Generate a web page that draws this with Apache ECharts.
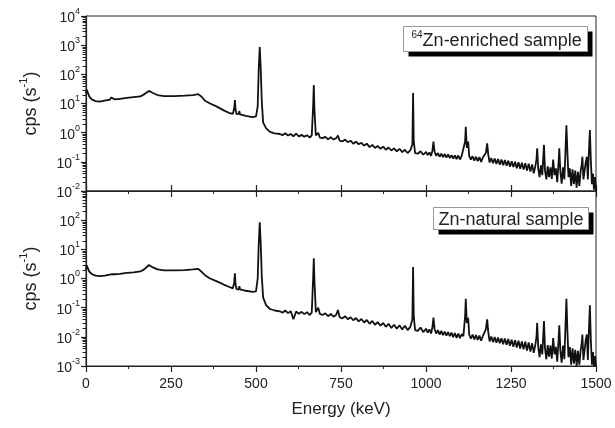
<!DOCTYPE html>
<html>
<head>
<meta charset="utf-8">
<script src="https://cdn.jsdelivr.net/npm/echarts@6/dist/echarts.min.js"></script>
<style>
  html, body { margin: 0; padding: 0; background: #fff; }
  #chart { width: 615px; height: 428px; }
</style>
</head>
<body>
<div id="chart"></div>
<script>
// energy axis (keV), shared by both spectra
const energy = [
  0, 2, 5, 10, 18, 28, 40, 55, 70, 74,
  77, 85, 100, 120, 140, 160, 172, 185, 197, 210,
  230, 260, 290, 315, 330, 340, 350, 365, 385, 405,
  420, 432, 436, 438, 440, 443, 449, 451, 453, 470,
  490, 500, 505, 508, 511, 514, 517, 521, 530, 541,
  555, 570, 578, 586, 594, 602, 610, 618, 626, 634,
  642, 650, 658, 664, 668, 670, 672, 676, 683, 688,
  696, 704, 712, 720, 728, 736, 741, 746, 754, 762,
  770, 778, 786, 794, 802, 810, 818, 826, 834, 842,
  850, 858, 866, 874, 882, 890, 898, 906, 914, 922,
  930, 938, 946, 954, 960, 962, 964, 968, 976, 984,
  992, 1000, 1005, 1010, 1015, 1019, 1022, 1025, 1030, 1035,
  1040, 1045, 1050, 1055, 1060, 1065, 1070, 1075, 1080, 1085,
  1090, 1095, 1100, 1105, 1110, 1115, 1117, 1120, 1124, 1127,
  1132, 1137, 1142, 1147, 1152, 1157, 1162, 1167, 1172, 1176,
  1180, 1183, 1187, 1192, 1197, 1202, 1207, 1212, 1217, 1222,
  1227, 1232, 1237, 1242, 1247, 1252, 1257, 1262, 1267, 1272,
  1277, 1282, 1287, 1292, 1297, 1302, 1307, 1312, 1317, 1322,
  1325, 1327, 1330, 1334, 1338, 1342, 1345, 1347, 1350, 1354,
  1358, 1362, 1366, 1370, 1374, 1378, 1382, 1386, 1390, 1392,
  1395, 1399, 1403, 1407, 1410, 1413, 1416, 1419, 1423, 1427,
  1431, 1435, 1439, 1443, 1447, 1451, 1455, 1458, 1460, 1463,
  1467, 1470, 1473, 1476, 1479, 1482, 1485, 1488, 1491, 1494,
  1497, 1500
];

// 64Zn-enriched sample (cps)
const cpsEnriched = [
  22, 30, 26, 17, 13.5, 12, 11.5, 12.5, 13.5, 16,
  13.8, 13.8, 14.5, 15.5, 16.5, 17.5, 21, 27, 23, 19.5,
  18, 18, 18.5, 19.5, 21, 17, 12.5, 10, 7.8, 5.8,
  4.8, 4.4, 7, 13, 6, 4.3, 4.4, 5.5, 4.2, 3.8,
  3.4, 3.6, 8, 150, 870, 150, 12, 2.2, 1.4, 1.07,
  0.95, 0.9, 0.82, 0.95, 0.8, 0.9, 0.75, 0.92, 0.74, 0.84,
  0.73, 0.82, 0.68, 0.81, 8, 43, 6, 0.8, 0.98, 0.68,
  0.65, 0.72, 0.59, 0.7, 0.58, 0.65, 0.8, 0.53, 0.5, 0.58,
  0.47, 0.53, 0.42, 0.49, 0.4, 0.45, 0.36, 0.42, 0.32, 0.38,
  0.3, 0.35, 0.28, 0.33, 0.26, 0.31, 0.245, 0.29, 0.23, 0.28,
  0.215, 0.26, 0.2, 0.25, 0.4, 23, 0.5, 0.2, 0.19, 0.23,
  0.175, 0.22, 0.17, 0.21, 0.16, 0.25, 0.49, 0.23, 0.16, 0.2,
  0.15, 0.19, 0.145, 0.185, 0.14, 0.18, 0.135, 0.17, 0.13, 0.165,
  0.125, 0.165, 0.12, 0.16, 0.14, 0.5, 1.6, 0.3, 0.5, 0.16,
  0.12, 0.155, 0.11, 0.15, 0.105, 0.145, 0.1, 0.14, 0.12, 0.2,
  0.43, 0.18, 0.095, 0.135, 0.09, 0.13, 0.085, 0.125, 0.08, 0.12,
  0.076, 0.115, 0.074, 0.11, 0.068, 0.105, 0.066, 0.1, 0.06, 0.096,
  0.058, 0.094, 0.054, 0.09, 0.05, 0.086, 0.046, 0.082, 0.04, 0.076,
  0.12, 0.29, 0.06, 0.03, 0.075, 0.035, 0.15, 0.38, 0.05, 0.025,
  0.07, 0.03, 0.065, 0.026, 0.12, 0.035, 0.06, 0.02, 0.1, 0.29,
  0.05, 0.018, 0.065, 0.025, 0.2, 1.8, 0.2, 0.03, 0.06, 0.015,
  0.055, 0.017, 0.05, 0.013, 0.045, 0.015, 0.05, 0.08, 0.15, 0.025,
  0.055, 0.1, 0.15, 0.025, 0.2, 1.23, 0.1, 0.017, 0.04, 0.011,
  0.03, 0.01
];

// Zn-natural sample (cps)
const cpsNatural = [
  2.0, 2.8, 2.5, 1.7, 1.4, 1.25, 1.2, 1.25, 1.35, 1.55,
  1.4, 1.4, 1.45, 1.55, 1.62, 1.75, 2.1, 2.9, 2.4, 2.05,
  1.9, 1.9, 1.95, 2.05, 2.15, 1.7, 1.3, 1.0, 0.8, 0.62,
  0.52, 0.46, 0.75, 1.5, 0.6, 0.43, 0.42, 0.55, 0.42, 0.38,
  0.35, 0.36, 1, 15, 85, 15, 1.2, 0.22, 0.12, 0.09,
  0.08, 0.075, 0.067, 0.08, 0.065, 0.076, 0.04, 0.074, 0.062, 0.072,
  0.06, 0.07, 0.056, 0.068, 1.0, 4.9, 0.8, 0.07, 0.1, 0.061,
  0.056, 0.064, 0.051, 0.061, 0.049, 0.057, 0.083, 0.047, 0.043, 0.051,
  0.04, 0.047, 0.037, 0.044, 0.034, 0.041, 0.031, 0.038, 0.028, 0.035,
  0.026, 0.032, 0.024, 0.03, 0.022, 0.028, 0.02, 0.026, 0.019, 0.025,
  0.018, 0.024, 0.017, 0.022, 0.04, 2.5, 0.05, 0.017, 0.016, 0.021,
  0.0145, 0.019, 0.014, 0.018, 0.013, 0.022, 0.046, 0.019, 0.013, 0.017,
  0.012, 0.016, 0.0115, 0.015, 0.011, 0.0145, 0.0105, 0.014, 0.0098, 0.0135,
  0.0092, 0.013, 0.009, 0.0125, 0.0105, 0.05, 0.2, 0.03, 0.045, 0.012,
  0.0087, 0.012, 0.0082, 0.0115, 0.0078, 0.011, 0.0074, 0.0105, 0.009, 0.018,
  0.04, 0.015, 0.007, 0.0102, 0.0066, 0.0098, 0.0063, 0.0094, 0.006, 0.009,
  0.0056, 0.0087, 0.0053, 0.0084, 0.0049, 0.008, 0.0046, 0.0077, 0.0043, 0.0073,
  0.004, 0.007, 0.0037, 0.0068, 0.0034, 0.0064, 0.0031, 0.006, 0.0028, 0.0057,
  0.01, 0.03, 0.0045, 0.002, 0.0055, 0.0025, 0.012, 0.035, 0.004, 0.0017,
  0.0052, 0.0021, 0.005, 0.0018, 0.009, 0.0025, 0.0045, 0.0014, 0.008, 0.025,
  0.0035, 0.0013, 0.005, 0.0017, 0.02, 0.2, 0.015, 0.002, 0.0045, 0.0011,
  0.004, 0.0012, 0.0036, 0.001, 0.0033, 0.0011, 0.0036, 0.006, 0.012, 0.0016,
  0.004, 0.008, 0.012, 0.0016, 0.015, 0.12, 0.007, 0.0011, 0.003, 0.001,
  0.0022, 0.001
];

// axis ranges and tick labels
const xTicks = [0, 250, 500, 750, 1000, 1250, 1500];
const topDecades = [-2, -1, 0, 1, 2, 3, 4];
const botDecades = [-3, -2, -1, 0, 1, 2, 3];

const FONT = 'Liberation Sans, Arial, sans-serif';
const INK = '#222';

// minor ticks at 2..9 x 10^n within the range
function minorValues (decades) {
  const vals = [];
  for (let i = 0; i < decades.length - 1; i++) {
    for (let k = 2; k <= 9; k++) {
      vals.push(+(k * Math.pow(10, decades[i])).toPrecision(3));
    }
  }
  return vals;
}

const powRich = {
  b: { fontSize: 14, fontFamily: FONT, color: INK, lineHeight: 18, verticalAlign: 'bottom' },
  s: { fontSize: 9, fontFamily: FONT, color: INK, lineHeight: 18, verticalAlign: 'top' }
};

function powLabel (hideTop) {
  return function (v) {
    const e = Math.round(Math.log10(v));
    if (hideTop !== undefined && e === hideTop) return '';
    return '{b|10}{s|' + e + '}';
  };
}

function mainY (grid, decades, hideTop) {
  return {
    type: 'log',
    logBase: 10,
    gridIndex: grid,
    position: 'left',
    min: Math.pow(10, decades[0]),
    max: Math.pow(10, decades[decades.length - 1]),
    name: '{n|cps (s}{s|-1}{n|)}',
    nameLocation: 'middle',
    nameRotate: 90,
    nameGap: 46,
    nameTextStyle: {
      rich: {
        n: { fontSize: 18, fontFamily: FONT, color: INK, lineHeight: 22, verticalAlign: 'bottom' },
        s: { fontSize: 11, fontFamily: FONT, color: INK, lineHeight: 22, verticalAlign: 'top' }
      }
    },
    axisLine: { show: true, lineStyle: { color: INK, width: 1.2 } },
    axisTick: { show: true, inside: false, length: 5, lineStyle: { color: INK, width: 1.2 } },
    axisLabel: { show: true, margin: 6, formatter: powLabel(hideTop), rich: powRich },
    splitLine: { show: false }
  };
}

const xBase = {
  type: 'value',
  min: xTicks[0],
  max: xTicks[xTicks.length - 1],
  interval: xTicks[1] - xTicks[0],
  splitLine: { show: false },
  axisLine: { show: true, onZero: false, lineStyle: { color: INK, width: 1.2 } }
};

const legendRich = {
  t: { fontSize: 18, fontFamily: FONT, fill: INK, lineHeight: 20, verticalAlign: 'bottom' },
  s: { fontSize: 10, fontFamily: FONT, fill: INK, lineHeight: 20, verticalAlign: 'top' }
};

// framed sample label with a solid drop shadow, as in the original figure
function sampleLabel (id, left, top, w, h, textX, text) {
  return {
    id: id,
    type: 'group',
    left: left,
    top: top,
    z: 50,
    children: [
      { type: 'rect', shape: { x: 5, y: 5, width: w, height: h }, style: { fill: '#000' } },
      { type: 'rect', shape: { x: 0, y: 0, width: w, height: h }, style: { fill: '#fff', stroke: '#999', lineWidth: 1 } },
      { type: 'text', x: textX, y: h / 2 + 1, style: { text: text, rich: legendRich, verticalAlign: 'middle', align: 'left' } }
    ]
  };
}

const chart = echarts.init(document.getElementById('chart'), null, { renderer: 'canvas' });

chart.setOption({
  animation: false,
  backgroundColor: '#fff',
  grid: [
    { left: 86, right: 19, top: 16, height: 175, show: true, borderColor: INK, borderWidth: 1, backgroundColor: 'transparent' },
    { left: 86, right: 19, top: 191, height: 175, show: true, borderColor: INK, borderWidth: 1, backgroundColor: 'transparent' }
  ],
  graphic: [
    sampleLabel('lab-top', 403, 26, 184, 25, 8, '{s|64}{t|Zn-enriched sample}'),
    sampleLabel('lab-bot', 433, 207, 155, 22, 5, '{t|Zn-natural sample}')
  ],
  xAxis: [
    Object.assign({}, xBase, {
      gridIndex: 0,
      position: 'bottom',
      axisTick: { show: true, inside: false, length: 6, lineStyle: { color: INK, width: 1.2 } },
      minorTick: { show: true, splitNumber: 2, length: 3, lineStyle: { color: INK, width: 1 } },
      axisLabel: { show: false }
    }),
    Object.assign({}, xBase, {
      gridIndex: 1,
      position: 'top',
      axisTick: { show: true, inside: false, length: 6, lineStyle: { color: INK, width: 1.2 } },
      axisLabel: { show: false }
    }),
    Object.assign({}, xBase, {
      gridIndex: 1,
      position: 'bottom',
      name: 'Energy (keV)',
      nameLocation: 'middle',
      nameGap: 35,
      nameTextStyle: { fontSize: 17, fontFamily: FONT, color: INK },
      axisTick: { show: true, inside: false, length: 6, lineStyle: { color: INK, width: 1.2 } },
      minorTick: { show: true, splitNumber: 2, length: 3, lineStyle: { color: INK, width: 1 } },
      axisLabel: { show: true, margin: 11, fontSize: 14, fontFamily: FONT, color: INK, formatter: v => String(v) }
    })
  ],
  yAxis: [
    mainY(0, topDecades),
    mainY(1, botDecades, botDecades[botDecades.length - 1])
  ],
  series: [
    {
      name: '64Zn-enriched',
      type: 'line',
      xAxisIndex: 0,
      yAxisIndex: 0,
      showSymbol: false,
      silent: true,
      lineStyle: { color: '#111', width: 1.8 },
      data: energy.map((e, i) => [e, cpsEnriched[i]])
    },
    {
      name: 'Zn-natural',
      type: 'line',
      xAxisIndex: 2,
      yAxisIndex: 1,
      showSymbol: false,
      silent: true,
      lineStyle: { color: '#111', width: 1.8 },
      data: energy.map((e, i) => [e, cpsNatural[i]])
    }
  ]
});

// log minor ticks (2..9 x 10^n) on the left axes, positioned through the chart's own y scales
const minorTicks = [];
[[0, 0, topDecades], [1, 2, botDecades]].forEach(([yi, xi, decades]) => {
  const x0 = chart.convertToPixel({ xAxisIndex: xi }, xTicks[0]);
  minorValues(decades).forEach((v, k) => {
    const y = Math.round(chart.convertToPixel({ yAxisIndex: yi }, v)) + 0.5;
    minorTicks.push({
      id: 'mt-' + yi + '-' + k,
      type: 'line',
      z: 40,
      silent: true,
      shape: { x1: x0 - 3.5, y1: y, x2: x0, y2: y },
      style: { stroke: INK, lineWidth: 1 }
    });
  });
});
chart.setOption({ graphic: minorTicks });
</script>
</body>
</html>
